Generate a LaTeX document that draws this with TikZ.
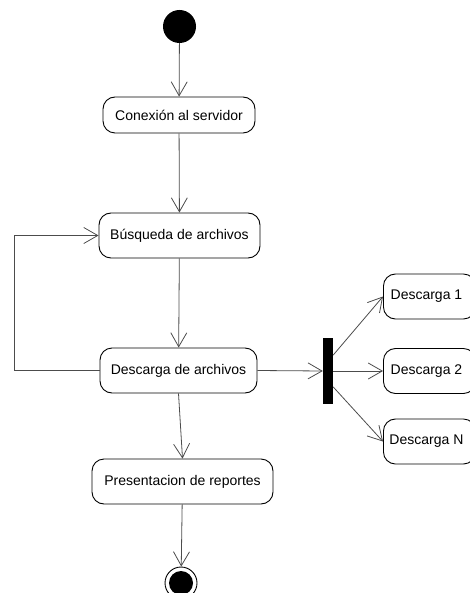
\documentclass[tikz,border=0pt]{standalone}
\usepackage{fontspec}
\setmainfont{Liberation Sans}
\usetikzlibrary{arrows.meta,calc}
\begin{document}
\begin{tikzpicture}[x=1pt,y=-1pt,
  every node/.style={font=\fontsize{14}{16}\selectfont},
  activity/.style={draw=black,line width=0.9pt,rounded corners=12pt,
    minimum height=45pt,inner sep=0pt},
  flow/.style={draw=black!70,line width=0.8pt,
    -{Straight Barb[length=14pt,width=16pt,line width=0.8pt]}},
  plain/.style={draw=black!70,line width=0.8pt}]
  \useasboundingbox (0,0) rectangle (470,593);

  % initial and final states
  \node[circle,fill=black,minimum size=33pt,inner sep=0pt] (start) at (179.5,26.5) {};
  \node[circle,draw=black,line width=0.9pt,minimum size=32pt,inner sep=0pt] (end) at (181,583) {};
  \fill[black] (end.center) circle (12pt);

  % main activities
  \node[activity,minimum width=152pt,minimum height=36pt] (con) at (179,115) {Conexión al servidor};
  \node[activity,minimum width=161pt] (bus) at (179.5,235.5) {Búsqueda de archivos};
  \node[activity,minimum width=157pt] (desc) at (178.5,370.5) {Descarga de archivos};
  \node[activity,minimum width=181pt] (pres) at (182.5,481.5) {Presentacion de reportes};

  % fork bar
  \node[fill=black,minimum width=10pt,minimum height=66pt,inner sep=0pt] (bar) at (328,371) {};

  % parallel downloads
  \node[activity,minimum width=92pt,anchor=west] (d1) at (383,296.5) {\hspace*{-6pt}Descarga 1};
  \node[activity,minimum width=92pt,anchor=west] (d2) at (383,371) {\hspace*{-6pt}Descarga 2};
  \node[activity,minimum width=92pt,anchor=west] (dN) at (383,441.5) {\hspace*{-6pt}Descarga N};

  % main flow
  \draw[flow] (start) -- (con);
  \draw[flow] (con) -- (bus);
  \draw[flow] (bus) -- (desc);
  \draw[flow] (desc.south) -- (pres.north);
  \draw[flow] (pres) -- (end);

  % loop back to the search
  \coordinate (loop) at (14,370.5);
  \draw[flow] (desc.west) -- (loop) |- (bus.west);

  % fork
  \draw[flow] (desc.east) -- (bar.west);
  \coordinate (fa) at ($(bar.north east)!0.26!(bar.south east)$);
  \coordinate (fb) at ($(bar.north east)!0.74!(bar.south east)$);
  \draw[flow] (fa) -- (d1.west);
  \draw[flow] (bar.east) -- (d2.west);
  \draw[flow] (fb) -- (dN.west);
\end{tikzpicture}
\end{document}
